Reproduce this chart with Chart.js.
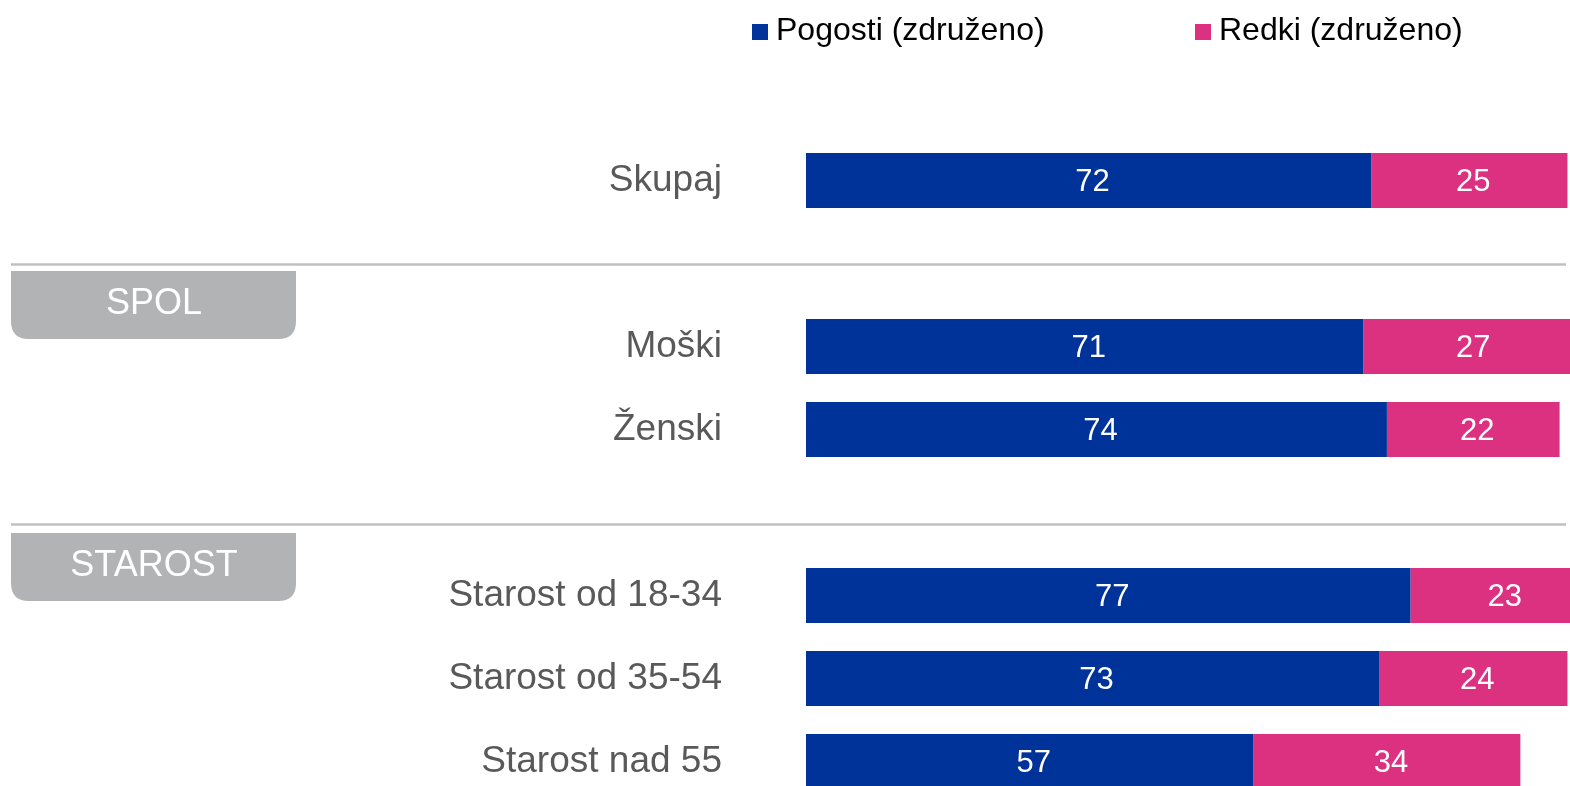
<!DOCTYPE html>
<html>
<head>
<meta charset="utf-8">
<script src="https://cdn.jsdelivr.net/npm/chart.js@4"></script>
<style>
  html, body { margin: 0; padding: 0; overflow: hidden; background: #fff; width: 1570px; height: 786px; }
  #c { position: absolute; left: 0; top: 0; }
</style>
</head>
<body>
<canvas id="c" width="1591" height="803" style="width:1591px;height:803px"></canvas>
<script>
const categories = ['Skupaj', '', 'Moški', 'Ženski', '', 'Starost od 18-34', 'Starost od 35-54', 'Starost nad 55'];
const pogosti = [72, null, 71, 74, null, 77, 73, 57];
const redki = [25, null, 27, 22, null, 23, 24, 34];
const seriesNames = ['Pogosti (združeno)', 'Redki (združeno)'];
const groupTitles = ['SPOL', 'STAROST'];

const FONT = '"Liberation Sans", Arial, sans-serif';
const BLUE = '#003399';
const PINK = '#dc3181';

const barLabels = {
  id: 'barLabels',
  afterDatasetsDraw(chart) {
    const ctx = chart.ctx;
    ctx.save();
    ctx.font = '31px ' + FONT;
    ctx.fillStyle = '#ffffff';
    ctx.textAlign = 'center';
    ctx.textBaseline = 'middle';
    chart.data.datasets.forEach((ds, di) => {
      chart.getDatasetMeta(di).data.forEach((el, i) => {
        const v = ds.data[i];
        if (v == null) return;
        const cx = (el.x + el.base) / 2 + 4;
        ctx.fillText(String(v), cx, el.y + 2);
      });
    });
    ctx.restore();
  }
};

function roundBottomRect(ctx, x, y, w, h, r) {
  ctx.beginPath();
  ctx.moveTo(x, y);
  ctx.lineTo(x + w, y);
  ctx.lineTo(x + w, y + h - r);
  ctx.quadraticCurveTo(x + w, y + h, x + w - r, y + h);
  ctx.lineTo(x + r, y + h);
  ctx.quadraticCurveTo(x, y + h, x, y + h - r);
  ctx.closePath();
}

const decorations = {
  id: 'decorations',
  beforeDraw(chart) {
    const ctx = chart.ctx;
    ctx.save();
    const lines = [264.5, 524.5];
    const tabs = [[271, 68], [533, 68]];
    ctx.strokeStyle = '#c0c0c0';
    ctx.lineWidth = 2.5;
    lines.forEach(y => {
      ctx.beginPath();
      ctx.moveTo(11, y);
      ctx.lineTo(1566, y);
      ctx.stroke();
    });
    tabs.forEach((t, i) => {
      ctx.fillStyle = '#b2b3b5';
      roundBottomRect(ctx, 11, t[0], 285, t[1], 18);
      ctx.fill();
      ctx.fillStyle = '#ffffff';
      ctx.font = '36px ' + FONT;
      ctx.textAlign = 'center';
      ctx.textBaseline = 'middle';
      ctx.fillText(groupTitles[i], 154, t[0] + t[1] / 2 - 1);
    });
    // legend
    const legendPos = [752, 1195];
    ctx.font = '32px ' + FONT;
    ctx.textAlign = 'left';
    ctx.textBaseline = 'middle';
    chart.data.datasets.forEach((ds, i) => {
      const x = legendPos[i];
      ctx.fillStyle = ds.backgroundColor;
      ctx.fillRect(x, 24, 16, 16);
      ctx.fillStyle = '#000000';
      ctx.fillText(ds.label, x + 24, 31);
    });
    ctx.restore();
  }
};

new Chart(document.getElementById('c'), {
  type: 'bar',
  data: {
    labels: categories,
    datasets: [
      { label: seriesNames[0], data: pogosti, backgroundColor: BLUE, borderWidth: 0 },
      { label: seriesNames[1], data: redki, backgroundColor: PINK, borderWidth: 0 }
    ]
  },
  options: {
    indexAxis: 'y',
    responsive: false,
    animation: false,
    devicePixelRatio: 1,
    layout: { padding: { top: 139, left: 0, right: 0, bottom: 0 } },
    datasets: { bar: { categoryPercentage: 1, barPercentage: 0.663 } },
    plugins: {
      legend: { display: false },
      tooltip: { enabled: false },
      title: { display: false }
    },
    scales: {
      x: {
        stacked: true, min: 0, max: 100, display: false
      },
      y: {
        stacked: true,
        grid: { display: false, drawTicks: false },
        border: { display: false },
        ticks: {
          font: { size: 37, family: FONT },
          color: '#595959',
          padding: 84,
          autoSkip: false
        },
        afterFit(scale) {
          scale.width = 806;
          scale.paddingTop = 0;
          scale.paddingBottom = 0;
        }
      }
    }
  },
  plugins: [decorations, barLabels]
});
</script>
</body>
</html>
